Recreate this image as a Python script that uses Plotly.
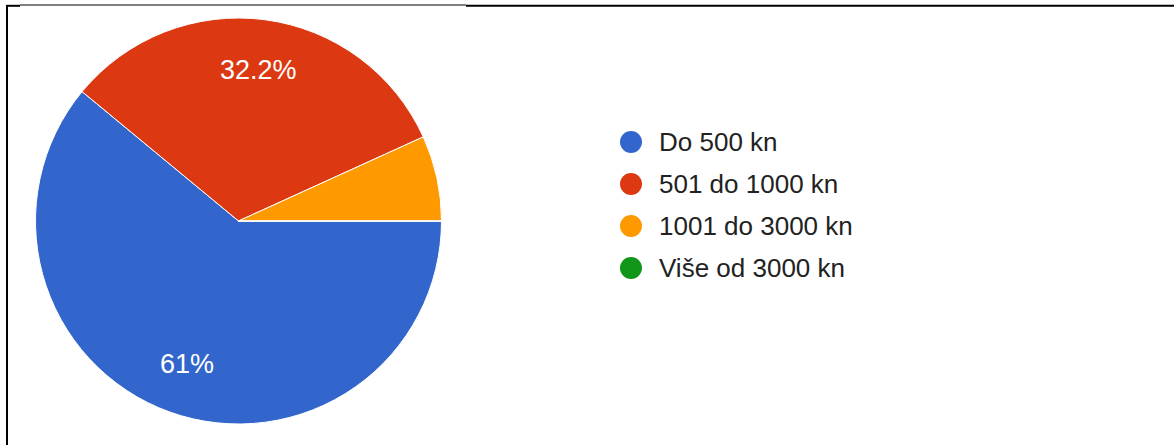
import math
import plotly.graph_objects as go

W, H = 1174, 445

categories = ["Do 500 kn", "501 do 1000 kn", "1001 do 3000 kn", "Više od 3000 kn"]
values = [61, 32.2, 6.8, 0]
slice_labels = ["61%", "32.2%", "", ""]
colors = ["#3366CC", "#DC3912", "#FF9900", "#109618"]

FONT = "Arial, Liberation Sans, sans-serif"

def px_x(x):
    return x / W

def px_y(y):
    return 1 - y / H

# pie geometry (pixels)
CX, CY, R = 238.5, 221, 203
ROT = 90  # first slice starts at 3 o'clock, clockwise

fig = go.Figure()

fig.add_trace(go.Pie(
    labels=categories,
    values=values,
    textinfo="none",
    marker=dict(colors=colors, line=dict(color="white", width=1)),
    sort=False,
    direction="clockwise",
    rotation=ROT,
    showlegend=False,
    hoverinfo="label+percent",
    domain=dict(x=[px_x(CX - R), px_x(CX + R)], y=[px_y(CY + R), px_y(CY - R)]),
))

annotations = []
total = sum(values)
cum = 0.0
for v, lab in zip(values, slice_labels):
    mid = ROT + 360.0 * (cum + v / 2.0) / total
    cum += v
    if not lab:
        continue
    a = math.radians(mid)
    x = CX + 0.75 * R * math.sin(a)
    y = CY - 0.75 * R * math.cos(a)
    annotations.append(dict(
        x=px_x(x), y=px_y(y), xref="paper", yref="paper", text=lab, showarrow=False,
        xanchor="center", yanchor="middle",
        font=dict(family=FONT, size=27, color="white"),
    ))

shapes = [
    dict(type="line", xref="paper", yref="paper", x0=px_x(7), x1=px_x(7), y0=px_y(5), y1=px_y(446),
         line=dict(color="black", width=2)),
    dict(type="line", xref="paper", yref="paper", x0=px_x(6), x1=px_x(20), y0=px_y(5.8), y1=px_y(5.8),
         line=dict(color="black", width=2)),
    dict(type="line", xref="paper", yref="paper", x0=px_x(20), x1=px_x(466), y0=px_y(5), y1=px_y(5),
         line=dict(color="black", width=1)),
    dict(type="line", xref="paper", yref="paper", x0=px_x(466), x1=px_x(1175), y0=px_y(5.8), y1=px_y(5.8),
         line=dict(color="black", width=2)),
]

# legend (circle markers + labels)
LX, LY0, LDY, LR = 631, 142, 42, 11
for i, (cat, col) in enumerate(zip(categories, colors)):
    cy = LY0 + LDY * i
    shapes.append(dict(
        type="circle", xref="paper", yref="paper",
        x0=px_x(LX - LR), x1=px_x(LX + LR), y0=px_y(cy + LR), y1=px_y(cy - LR),
        fillcolor=col, line=dict(width=0),
    ))
    annotations.append(dict(
        x=px_x(658), y=px_y(cy), xref="paper", yref="paper", text=cat, showarrow=False,
        xanchor="left", yanchor="middle", borderpad=0,
        font=dict(family=FONT, size=26, color="#222222"),
    ))

fig.update_layout(
    width=W, height=H,
    margin=dict(l=0, r=0, t=0, b=0),
    paper_bgcolor="white", plot_bgcolor="white",
    shapes=shapes,
    annotations=annotations,
    showlegend=False,
)

fig.write_html(
    "out.html",
    config={"displayModeBar": False},
    post_script="document.body.style.margin='0';document.body.style.overflow='hidden';",
)
